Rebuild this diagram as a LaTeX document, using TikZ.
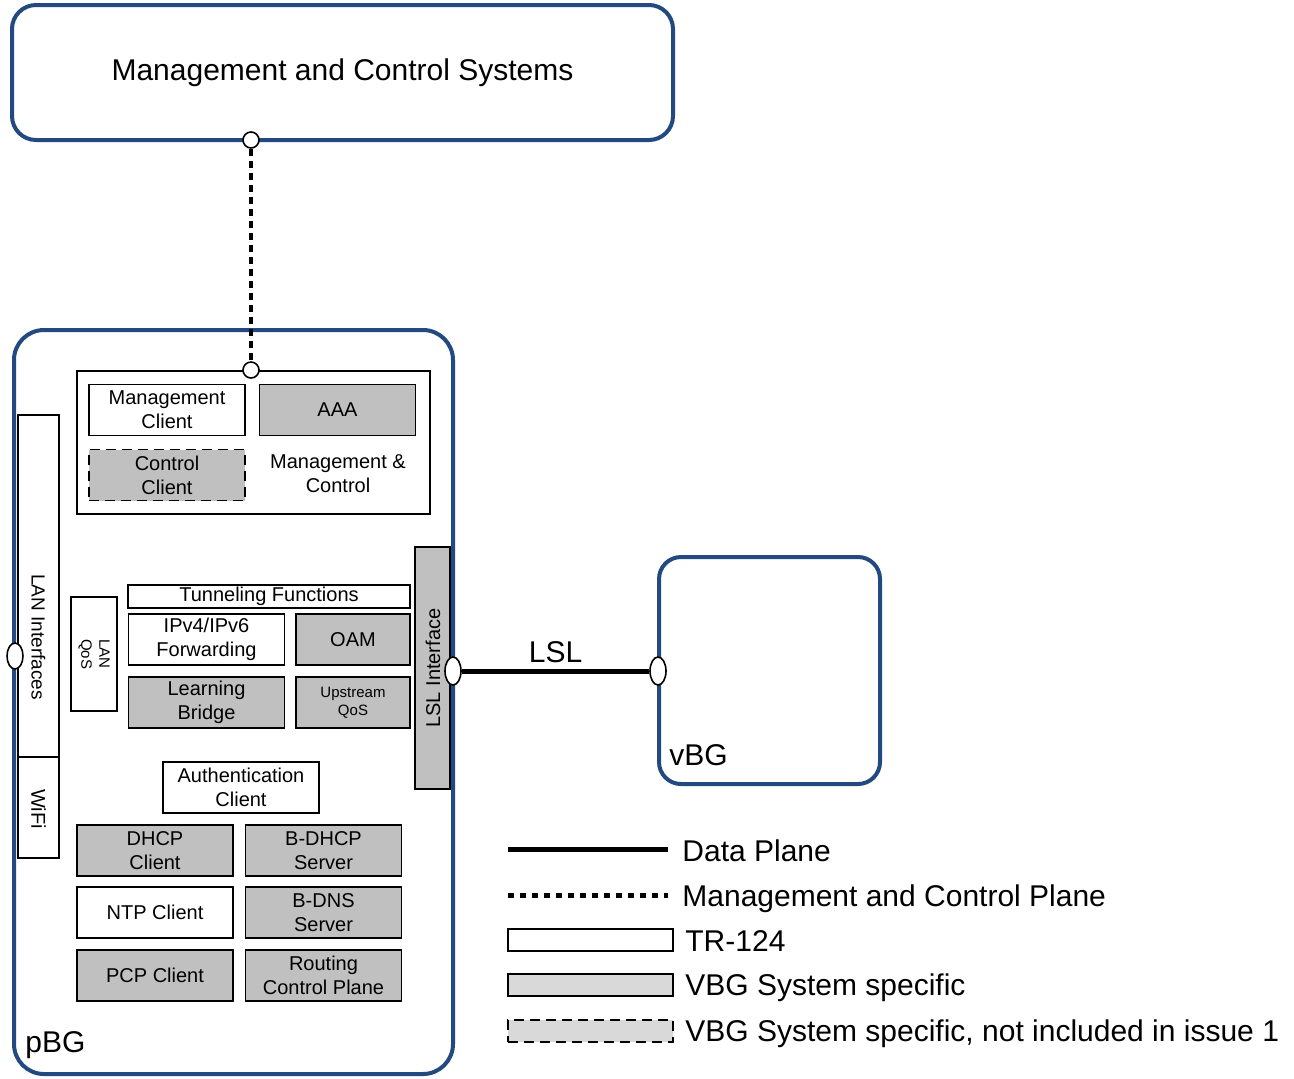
\documentclass[tikz,border=0pt]{standalone}
\usepackage{fontspec}
\setmainfont{Liberation Sans}
\usetikzlibrary{shapes.geometric}
\definecolor{bgblue}{RGB}{34,74,128}
\definecolor{vbggray}{RGB}{192,192,192}
\definecolor{legendgray}{RGB}{217,217,217}

\begin{document}
\begin{tikzpicture}
  [x=0.5pt, y=-0.5pt,
   every node/.style={inner sep=0pt, align=center, font=\fontsize{10}{12}\selectfont},
   system/.style={draw=bgblue, line width=2pt, fill=white},
   tr/.style={draw, line width=0.9pt, fill=white},
   vbgspec/.style={tr, fill=vbggray},
   pending/.style={vbgspec, dash pattern=on 5pt off 3pt},
   cell/.style={minimum width=78pt, minimum height=25.5pt},
   port/.style={ellipse, draw, line width=0.8pt, fill=white, minimum width=8pt, minimum height=14pt},
   mport/.style={circle, draw, line width=0.8pt, fill=white, minimum size=8pt},
   big/.style={font=\fontsize{15}{18}\selectfont},
   small/.style={font=\fontsize{7.5}{9}\selectfont},
   dataplane/.style={line width=2.5pt},
   mcplane/.style={line width=2pt, dash pattern=on 3.5pt off 2.5pt}]
  \useasboundingbox (0,0) rectangle (1294,1078);

  \node[system, rounded corners=12pt, minimum width=330.5pt, minimum height=67.5pt, big] (mcs) at (342.5,72.5) {Management and Control Systems};
  \node[system, rounded corners=15pt, minimum width=219.5pt, minimum height=372pt] (pbg) at (233.5,702) {};
  \node[system, rounded corners=11pt, minimum width=110.5pt, minimum height=113.5pt] (vbg) at (769.5,670.5) {};

  % management and control
  \node[draw, line width=1.3pt, minimum width=176.5pt, minimum height=71.5pt] (mc) at (253.5,442.5) {};
  \node[tr, cell] (mgmtclient) at (167,410) {Management\\Client};
  \node[vbgspec, cell] (aaa) at (337.5,410) {AAA};
  \node[pending, cell] (ctrlclient) at (167,475) {Control\\Client};
  \node (mctext) at (338,474) {Management \&\\Control};

  % interfaces
  \node[tr, minimum width=20.5pt, minimum height=171pt] (lanif) at (38.5,586) {};
  \node[rotate=-90, font=\fontsize{9.5}{11}\selectfont] (lanlabel) at (38.5,637) {LAN Interfaces};
  \node[tr, minimum width=20.5pt, minimum height=50.5pt] (wifi) at (38.5,807.5) {};
  \node[rotate=-90] (wifilabel) at (38.5,809) {WiFi};
  \node[vbgspec, minimum width=17.5pt, minimum height=121pt] (lslif) at (432.5,668) {};
  \node[rotate=90] (lsllabel) at (433,668) {LSL Interface};
  \node[tr, minimum width=23pt, minimum height=57pt] (lanqos) at (94,654) {};
  \node[rotate=-90, small] (lanqoslabel) at (94,654) {LAN\\QoS};

  % forwarding
  \node[tr, minimum width=141pt, minimum height=11.5pt] (tunnel) at (269,596.5) {Tunneling Functions};
  \node[tr, cell] (fwd) at (206.5,639.5) {IPv4/IPv6\\Forwarding};
  \node[vbgspec, cell, minimum width=57pt] (oam) at (353,639.5) {OAM};
  \node[vbgspec, cell] (bridge) at (206.5,702.5) {Learning\\Bridge};
  \node[vbgspec, cell, minimum width=57pt, small] (usqos) at (353,702.5) {Upstream\\QoS};

  % services
  \node[tr, cell] (auth) at (241,787.5) {Authentication\\Client};
  \node[vbgspec, cell] (dhcp) at (155,850.5) {DHCP\\Client};
  \node[vbgspec, cell] (bdhcp) at (323.5,850.5) {B-DHCP\\Server};
  \node[tr, cell] (ntp) at (155,912.5) {NTP Client};
  \node[vbgspec, cell] (bdns) at (323.5,912.5) {B-DNS\\Server};
  \node[vbgspec, cell] (pcp) at (155,975.5) {PCP Client};
  \node[vbgspec, cell] (routing) at (323.5,975.5) {Routing\\Control Plane};

  \node[big, anchor=west] (pbglabel) at (25,1045) {pBG};
  \node[big, anchor=west] (vbglabel) at (669,755) {vBG};

  % connections
  \node[mport] (mcsport) at (251,140) {};
  \node[mport] (mcport) at (251,370) {};
  \draw[mcplane] (mcsport) -- (mcport);
  \node[port, minimum height=13pt] (lanport) at (15,656) {};
  \node[port] (lslport) at (453,671) {};
  \node[port] (vbgport) at (658,671) {};
  \draw[dataplane] (lslport) -- node[big, above=3pt] (lsl) {LSL} (vbgport);

  % legend
  \coordinate (data1) at (508,849);
  \coordinate (data2) at (668,849);
  \coordinate (mgmt1) at (508,895);
  \coordinate (mgmt2) at (668,895);
  \draw[dataplane] (data1) -- (data2);
  \draw[line width=2.5pt, dash pattern=on 3pt off 3pt] (mgmt1) -- (mgmt2);
  \node[draw, line width=0.7pt, fill=white, minimum width=82.5pt, minimum height=11pt] (keytr) at (590.5,940) {};
  \node[draw, line width=0.7pt, fill=legendgray, minimum width=82.5pt, minimum height=11pt] (keyvbg) at (590.5,985) {};
  \node[draw, line width=0.7pt, fill=legendgray, dash pattern=on 5pt off 3pt, minimum width=82.5pt, minimum height=11pt] (keypending) at (590.5,1031) {};
  \node[big, anchor=west] (datatext) at (682,851) {Data Plane};
  \node[big, anchor=west] (mgmttext) at (682,899) {Management and Control Plane};
  \node[big, anchor=west] (trtext) at (685,941) {TR-124};
  \node[big, anchor=west] (vbgtext) at (685,988) {VBG System specific};
  \node[big, anchor=west] (pendingtext) at (685,1034) {VBG System specific, not included in issue 1};
\end{tikzpicture}
\end{document}
